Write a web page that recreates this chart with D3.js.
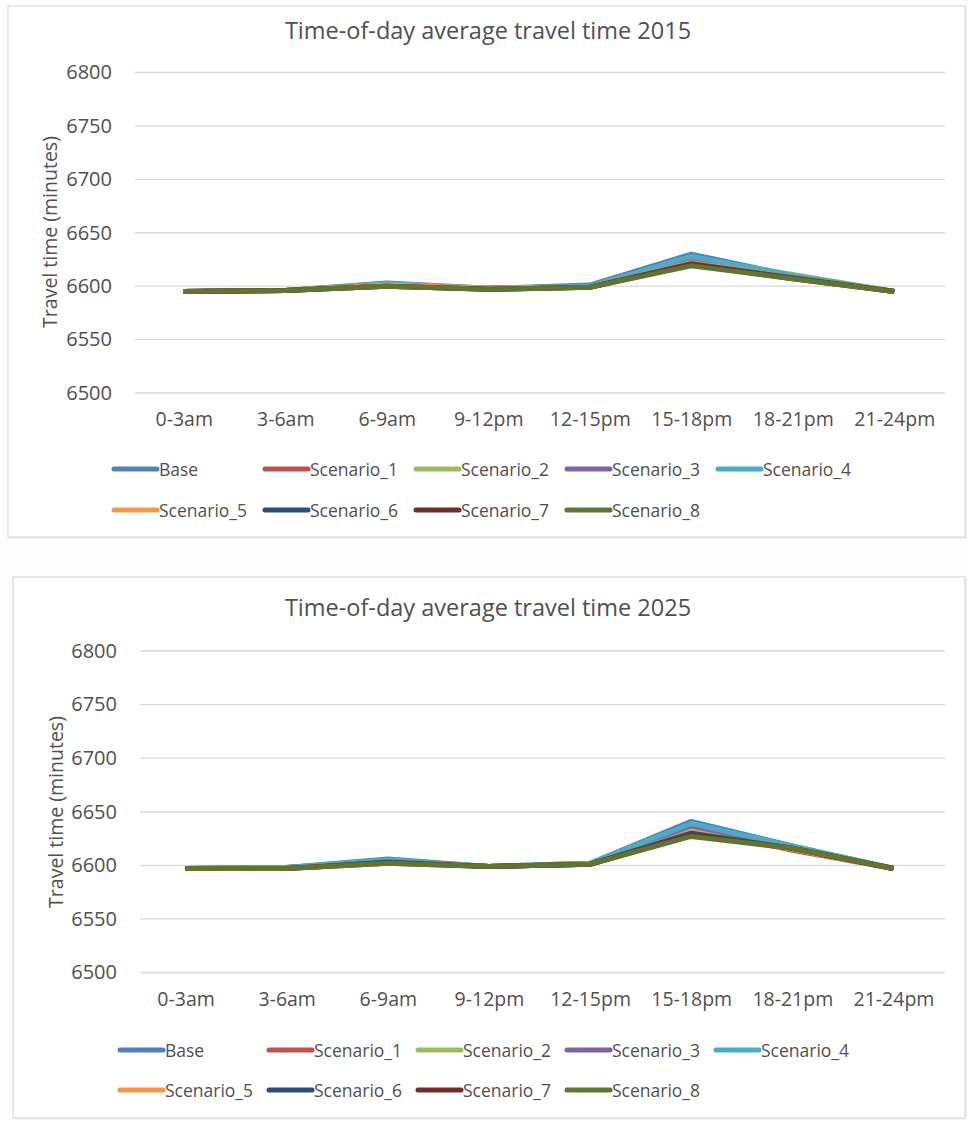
<!DOCTYPE html>
<html>
<head>
<meta charset="utf-8">
<script src="https://cdn.jsdelivr.net/npm/d3@7"></script>
<style>
  html, body { margin: 0; padding: 0; background: #fdfdfd; }
  svg { display: block; }
  text { font-family: "Open Sans", sans-serif; fill: #505050; }
</style>
</head>
<body>
<svg id="chart" width="969" height="1123"></svg>
<script>
// ---------- DATA ----------
const categories = ["0-3am", "3-6am", "6-9am", "9-12pm", "12-15pm", "15-18pm", "18-21pm", "21-24pm"];
const seriesNames = ["Base", "Scenario_1", "Scenario_2", "Scenario_3", "Scenario_4", "Scenario_5", "Scenario_6", "Scenario_7", "Scenario_8"];
const seriesColors = ["#4F81BD", "#C0504D", "#9BBB59", "#8064A2", "#4BACC6", "#F79646", "#2C4D75", "#772C2A", "#5F7530"];
const yTicks = [6500, 6550, 6600, 6650, 6700, 6750, 6800];

const titles = ["Time-of-day average travel time 2015", "Time-of-day average travel time 2025"];
const yAxisTitle = "Travel time (minutes)";

// 2015 values
const base2015 = [6595, 6596, 6603, 6598, 6601, 6630, 6610, 6595];
const s1_2015  = [6595, 6596, 6602, 6598, 6600, 6624, 6609, 6595];
const s2_2015  = [6595, 6596, 6602, 6598, 6600, 6626, 6611, 6595];
const s3_2015  = [6595, 6596, 6601, 6598, 6600, 6623, 6609, 6595];
const s4_2015  = [6595, 6596, 6602, 6598, 6600, 6628, 6610, 6595];
const s5_2015  = [6595, 6596, 6601, 6598, 6599, 6622, 6608, 6595];
const s6_2015  = [6595, 6596, 6600, 6597, 6599, 6621, 6608, 6595];
const s7_2015  = [6595, 6596, 6600, 6597, 6599, 6620, 6607, 6595];
const s8_2015  = [6595, 6596, 6600, 6597, 6599, 6619, 6607, 6595];

// 2025 values
const base2025 = [6597, 6598, 6606, 6599, 6602, 6641, 6618, 6597];
const s1_2025  = [6597, 6598, 6604, 6599, 6601, 6635, 6614, 6597];
const s2_2025  = [6597, 6598, 6604, 6599, 6601, 6633, 6617, 6597];
const s3_2025  = [6597, 6598, 6604, 6599, 6601, 6637, 6617, 6597];
const s4_2025  = [6597, 6598, 6605, 6599, 6602, 6639, 6618, 6597];
const s5_2025  = [6597, 6597, 6603, 6599, 6601, 6631, 6615, 6597];
const s6_2025  = [6597, 6597, 6603, 6599, 6601, 6630, 6616, 6597];
const s7_2025  = [6597, 6597, 6602, 6599, 6601, 6628, 6616, 6597];
const s8_2025  = [6597, 6597, 6602, 6599, 6601, 6627, 6616, 6597];

const data2015 = [base2015, s1_2015, s2_2015, s3_2015, s4_2015, s5_2015, s6_2015, s7_2015, s8_2015];
const data2025 = [base2025, s1_2025, s2_2025, s3_2025, s4_2025, s5_2025, s6_2025, s7_2025, s8_2025];

// ---------- DRAW ----------
const svg = d3.select("#chart");

function drawChart(cfg, values, title) {
  const g = svg.append("g");

  // frame
  g.append("rect")
    .attr("x", cfg.box[0] + 1.5).attr("y", cfg.box[1] + 1.5)
    .attr("width", cfg.box[2]).attr("height", cfg.box[3])
    .attr("fill", "#ececec");
  g.append("rect")
    .attr("x", cfg.box[0]).attr("y", cfg.box[1])
    .attr("width", cfg.box[2]).attr("height", cfg.box[3])
    .attr("fill", "#ffffff").attr("stroke", "#d4d4d4").attr("stroke-width", 1);

  const x = d3.scalePoint().domain(categories).range([cfg.xRange[0], cfg.xRange[1]]).padding(0.5);
  const y = d3.scaleLinear().domain([6500, 6800]).range([cfg.yBottom, cfg.yTop]);

  // title
  g.append("text")
    .attr("x", cfg.titleX).attr("y", cfg.titleY)
    .attr("text-anchor", "middle").attr("dominant-baseline", "central")
    .style("font-size", "23.5px")
    .text(title);

  // gridlines
  g.append("g").selectAll("line").data(yTicks).join("line")
    .attr("x1", cfg.gridX[0]).attr("x2", cfg.gridX[1])
    .attr("y1", d => y(d)).attr("y2", d => y(d))
    .attr("stroke", "#d9d9d9").attr("stroke-width", 1.3);

  // y axis via d3 axis (labels only)
  const yAxis = g.append("g")
    .attr("transform", `translate(${cfg.gridX[0]},0)`)
    .call(d3.axisLeft(y).tickValues(yTicks).tickFormat(d3.format("d")).tickSize(0).tickPadding(cfg.gridX[0] - cfg.yLabelRight));
  yAxis.select(".domain").remove();
  yAxis.selectAll("text")
    .style("font-size", "20px").style("font-family", "'Open Sans', sans-serif").attr("fill", "#505050");

  // x axis labels
  const xAxis = g.append("g")
    .attr("transform", `translate(0,${cfg.yBottom})`)
    .call(d3.axisBottom(x).tickSize(0).tickPadding(cfg.xLabelY - cfg.yBottom - 13));
  xAxis.select(".domain").remove();
  xAxis.selectAll("text")
    .style("font-size", "19.5px").style("font-family", "'Open Sans', sans-serif").attr("fill", "#505050");

  // y axis title
  g.append("text")
    .attr("transform", `translate(${cfg.axisTitleX},${cfg.axisTitleY}) rotate(-90)`)
    .attr("text-anchor", "middle").attr("dominant-baseline", "central")
    .style("font-size", "19.5px")
    .text(yAxisTitle);

  // lines
  const line = d3.line().x((d, i) => x(categories[i])).y(d => y(d));
  g.append("g").selectAll("path").data(values).join("path")
    .attr("d", d => line(d))
    .attr("fill", "none")
    .attr("stroke", (d, i) => seriesColors[i])
    .attr("stroke-width", 5)
    .attr("stroke-linejoin", "round");

  // legend
  const leg = g.append("g");
  seriesNames.forEach((name, i) => {
    const row = i < 5 ? 0 : 1;
    const col = i < 5 ? i : i - 5;
    const lx = cfg.legX + col * cfg.legColW;
    const ly = cfg.legY[row];
    leg.append("line")
      .attr("x1", lx).attr("x2", lx + 43)
      .attr("y1", ly).attr("y2", ly)
      .attr("stroke", seriesColors[i]).attr("stroke-width", 5)
      .attr("stroke-linecap", "round");
    leg.append("text")
      .attr("x", lx + 45).attr("y", ly)
      .attr("dominant-baseline", "central")
      .style("font-size", "17.5px")
      .text(name);
  });
}

const layouts = [
  { box: [8, 6, 957, 531], titleX: 488, titleY: 30, xRange: [133, 945], gridX: [135, 945],
    yTop: 72.5, yBottom: 393, yLabelRight: 112, xLabelY: 425, axisTitleX: 49, axisTitleY: 232,
    legX: 114, legColW: 151, legY: [469, 510] },
  { box: [13, 577, 952, 541], titleX: 488, titleY: 607, xRange: [135, 944], gridX: [140, 945],
    yTop: 651, yBottom: 972.5, yLabelRight: 117, xLabelY: 1005, axisTitleX: 55, axisTitleY: 812,
    legX: 120, legColW: 149, legY: [1050, 1090] }
];

drawChart(layouts[0], data2015, titles[0]);
drawChart(layouts[1], data2025, titles[1]);
</script>
</body>
</html>
